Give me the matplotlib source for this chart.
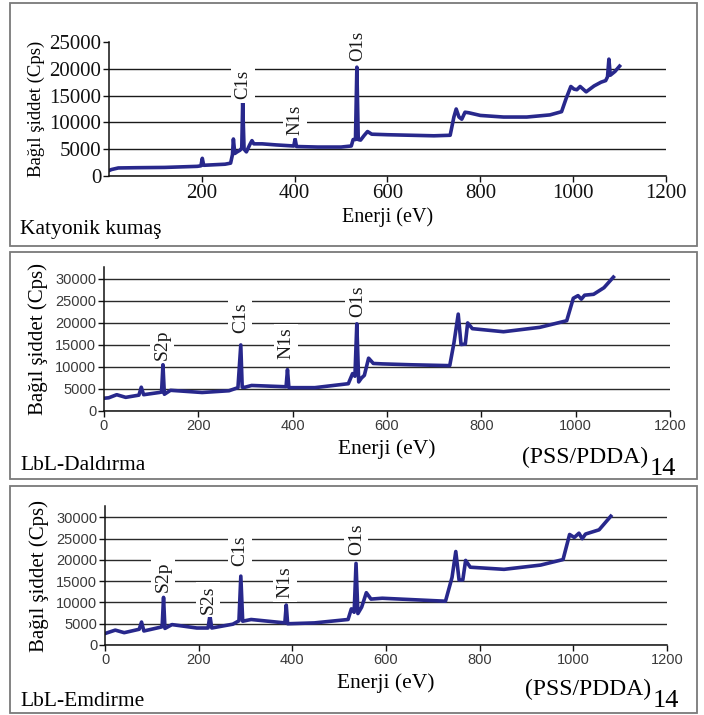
import matplotlib
matplotlib.use('Agg')
import matplotlib.pyplot as plt
from matplotlib.patches import Rectangle

# Survey XPS spectra (energy in eV, intensity in Cps)
energy_kat = [0, 5, 20, 60, 120, 190, 198, 201, 204, 250, 262, 266, 268, 271,
              276, 282, 286, 288, 291, 296, 303, 308, 312, 330, 360, 398, 401,
              404, 450, 500, 522, 526, 531, 534, 537, 542, 550, 557, 566, 600,
              650, 700, 735, 743, 748, 754, 760, 767, 775, 800, 850, 900, 950,
              975, 985, 995, 1002, 1008, 1015, 1028, 1045, 1060, 1070, 1074,
              1077, 1080, 1090, 1100]
cps_kat = [1000, 1200, 1500, 1550, 1600, 1800, 1900, 3300, 2000, 2200, 2400,
           4000, 6900, 4200, 4500, 4800, 5200, 13700, 5000, 4500, 5800, 6600,
           6000, 6000, 5800, 5600, 6900, 5500, 5400, 5400, 5600, 6800, 6800,
           20300, 6800, 6700, 7600, 8300, 7800, 7700, 7600, 7500, 7600, 11000,
           12500, 11000, 10600, 11900, 11800, 11300, 11000, 11000, 11400,
           12000, 14500, 16700, 16200, 16100, 16700, 15700, 16800, 17500,
           17800, 18500, 21800, 18800, 19500, 20500]

energy_dal = [0, 10, 27, 46, 74, 79, 84, 117, 122, 125, 128, 141, 208, 265,
              284, 290, 293, 299, 313, 386, 389, 392, 447, 518, 527, 532, 536,
              540, 546, 552, 561, 571, 590, 650, 733, 742, 751, 757, 766, 771,
              781, 847, 924, 981, 995, 1005, 1012, 1019, 1038, 1060, 1080]
cps_dal = [2900, 3000, 3700, 3100, 3600, 5400, 3700, 4200, 4300, 10500, 3800,
           4700, 4200, 4600, 5300, 15000, 5400, 5400, 5800, 5500, 9400, 5300,
           5300, 6200, 8500, 7900, 19800, 6600, 7500, 8100, 12000, 10800,
           10700, 10500, 10300, 15500, 22000, 15100, 15200, 20000, 18700,
           18000, 19000, 20500, 25600, 26200, 25400, 26300, 26500, 28000,
           30400]

energy_emd = [0, 22, 41, 73, 78, 83, 119, 122, 125, 128, 143, 196, 220, 224,
              228, 273, 286, 290, 294, 312, 384, 387, 390, 447, 519, 526, 532,
              536, 540, 548, 558, 568, 592, 650, 727, 741, 749, 756, 764, 770,
              780, 852, 930, 978, 992, 1002, 1012, 1019, 1026, 1055, 1080]
cps_emd = [2700, 3500, 2900, 3700, 5400, 3300, 4200, 4300, 11200, 3900, 4800,
           4000, 4000, 6900, 4000, 4900, 5700, 16200, 5600, 6000, 5200, 9400,
           5000, 5200, 6000, 8500, 7700, 19200, 7400, 8900, 12300, 10800,
           11000, 10700, 10300, 15900, 22000, 15300, 15300, 19900, 18300,
           17800, 18800, 20100, 26000, 25300, 26300, 25000, 26100, 27100,
           30300]

# peak labels and where they sit (data coordinates)
peaks_kat = ['C1s', 'N1s', 'O1s']
peak_e_kat = [288, 400, 535]
peak_y_kat = [17000, 10500, 24200]

peaks_dal = ['S2p', 'C1s', 'N1s', 'O1s']
peak_e_dal = [124, 289, 385, 537]
peak_y_dal = [15100, 21200, 15300, 25000]

peaks_emd = ['S2p', 'S2s', 'C1s', 'N1s', 'O1s']
peak_e_emd = [124, 220, 288, 385, 537]
peak_y_emd = [16100, 10700, 22300, 14700, 25000]

yticks_kat = [0, 5000, 10000, 15000, 20000, 25000]
yticks_lbl = [0, 5000, 10000, 15000, 20000, 25000, 30000]
xticks_kat = [200, 400, 600, 800, 1000, 1200]
xticks_lbl = [0, 200, 400, 600, 800, 1000, 1200]

W, H = 704, 715
SERIF = 'Liberation Serif'
SANS = 'Liberation Sans'
LINE = '#28288c'

fig = plt.figure(figsize=(W / 100, H / 100), dpi=100)


def add_axes_px(left, right, top, bottom):
    return fig.add_axes([left / W, 1 - bottom / H, (right - left) / W,
                         (bottom - top) / H])


def fig_text(x, y, s, **kw):
    fig.text(x / W, 1 - y / H, s, **kw)


# grey frames round each panel
for (x0, y0, x1, y1) in [(10, 3, 697, 246), (10, 252, 697, 479),
                         (10, 486, 697, 713)]:
    fig.patches.append(Rectangle((x0 / W, 1 - y1 / H), (x1 - x0) / W,
                                 (y1 - y0) / H, transform=fig.transFigure,
                                 fill=False, edgecolor='#7a7a7a',
                                 linewidth=1.3))


def style_axes(ax, ymax, yticks, xticks, tick_font, tick_size, tick_color,
               grid_color, hide_top_grid):
    ax.set_xlim(0, 1200)
    ax.set_ylim(0, ymax)
    ax.set_yticks(yticks)
    ax.set_xticks(xticks)
    for s in ['top', 'right']:
        ax.spines[s].set_visible(False)
    for s in ['left', 'bottom']:
        ax.spines[s].set_linewidth(1.1)
        ax.spines[s].set_color('#111111')
    ax.yaxis.grid(True, color=grid_color, linewidth=1.0)
    ax.set_axisbelow(True)
    if hide_top_grid:
        ax.get_ygridlines()[-1].set_visible(False)
    ax.tick_params(axis='both', direction='out', length=4, width=1,
                   color='#111111', labelsize=tick_size,
                   labelcolor=tick_color, pad=1.5)
    for lab in ax.get_xticklabels() + ax.get_yticklabels():
        lab.set_fontfamily(tick_font)


def annotate_peaks(ax, names, xs, ys, size):
    for name, x, y in zip(names, xs, ys):
        ax.text(x, y, name, rotation=90, ha='center', va='center',
                fontsize=size, family=SERIF, color='#1a1a1a',
                bbox=dict(facecolor='white', edgecolor='none', pad=2.5))


# ---- panel 1: Katyonik kumaş ----
ax1 = add_axes_px(109, 666, 42, 176)
ax1.plot(energy_kat, cps_kat, color=LINE, linewidth=2.6)
style_axes(ax1, 25000, yticks_kat, xticks_kat, SERIF, 15, '#111111',
           '#1a1a1a', True)
annotate_peaks(ax1, peaks_kat, peak_e_kat, peak_y_kat, 13.5)
ax1.set_xlabel('Enerji (eV)', family=SERIF, fontsize=14.5, labelpad=3)
ax1.set_ylabel('Bağıl şiddet (Cps)', family=SERIF, fontsize=13.5,
               labelpad=3)
fig_text(20, 234, 'Katyonik kumaş', family=SERIF, fontsize=15.5,
         ha='left', va='baseline')

# ---- panel 2: LbL-Daldırma ----
ax2 = add_axes_px(104, 670, 267, 411)
ax2.plot(energy_dal, cps_dal, color=LINE, linewidth=2.6)
style_axes(ax2, 32700, yticks_lbl, xticks_lbl, SANS, 10.5, '#3a3a3a',
           '#2a2a2a', False)
annotate_peaks(ax2, peaks_dal, peak_e_dal, peak_y_dal, 14)
ax2.set_xlabel('Enerji (eV)', family=SERIF, fontsize=15.5, labelpad=5)
ax2.set_ylabel('Bağıl şiddet (Cps)', family=SERIF, fontsize=15,
               labelpad=5)
fig_text(20, 470, 'LbL-Daldırma', family=SERIF, fontsize=15.5,
         ha='left', va='baseline')
fig_text(648, 463, '(PSS/PDDA)', family=SERIF, fontsize=17,
         ha='right', va='baseline')
fig_text(650, 475, '14', family=SERIF, fontsize=19,
         ha='left', va='baseline')

# ---- panel 3: LbL-Emdirme ----
ax3 = add_axes_px(105, 667, 506, 645)
ax3.plot(energy_emd, cps_emd, color=LINE, linewidth=2.6)
style_axes(ax3, 32700, yticks_lbl, xticks_lbl, SANS, 10.5, '#3a3a3a',
           '#2a2a2a', False)
annotate_peaks(ax3, peaks_emd, peak_e_emd, peak_y_emd, 14)
ax3.set_xlabel('Enerji (eV)', family=SERIF, fontsize=15.5, labelpad=5)
ax3.set_ylabel('Bağıl şiddet (Cps)', family=SERIF, fontsize=15,
               labelpad=5)
fig_text(20, 706, 'LbL-Emdirme', family=SERIF, fontsize=15.5,
         ha='left', va='baseline')
fig_text(651, 695, '(PSS/PDDA)', family=SERIF, fontsize=17,
         ha='right', va='baseline')
fig_text(653, 707, '14', family=SERIF, fontsize=19,
         ha='left', va='baseline')

plt.savefig('out.png', dpi=100)
